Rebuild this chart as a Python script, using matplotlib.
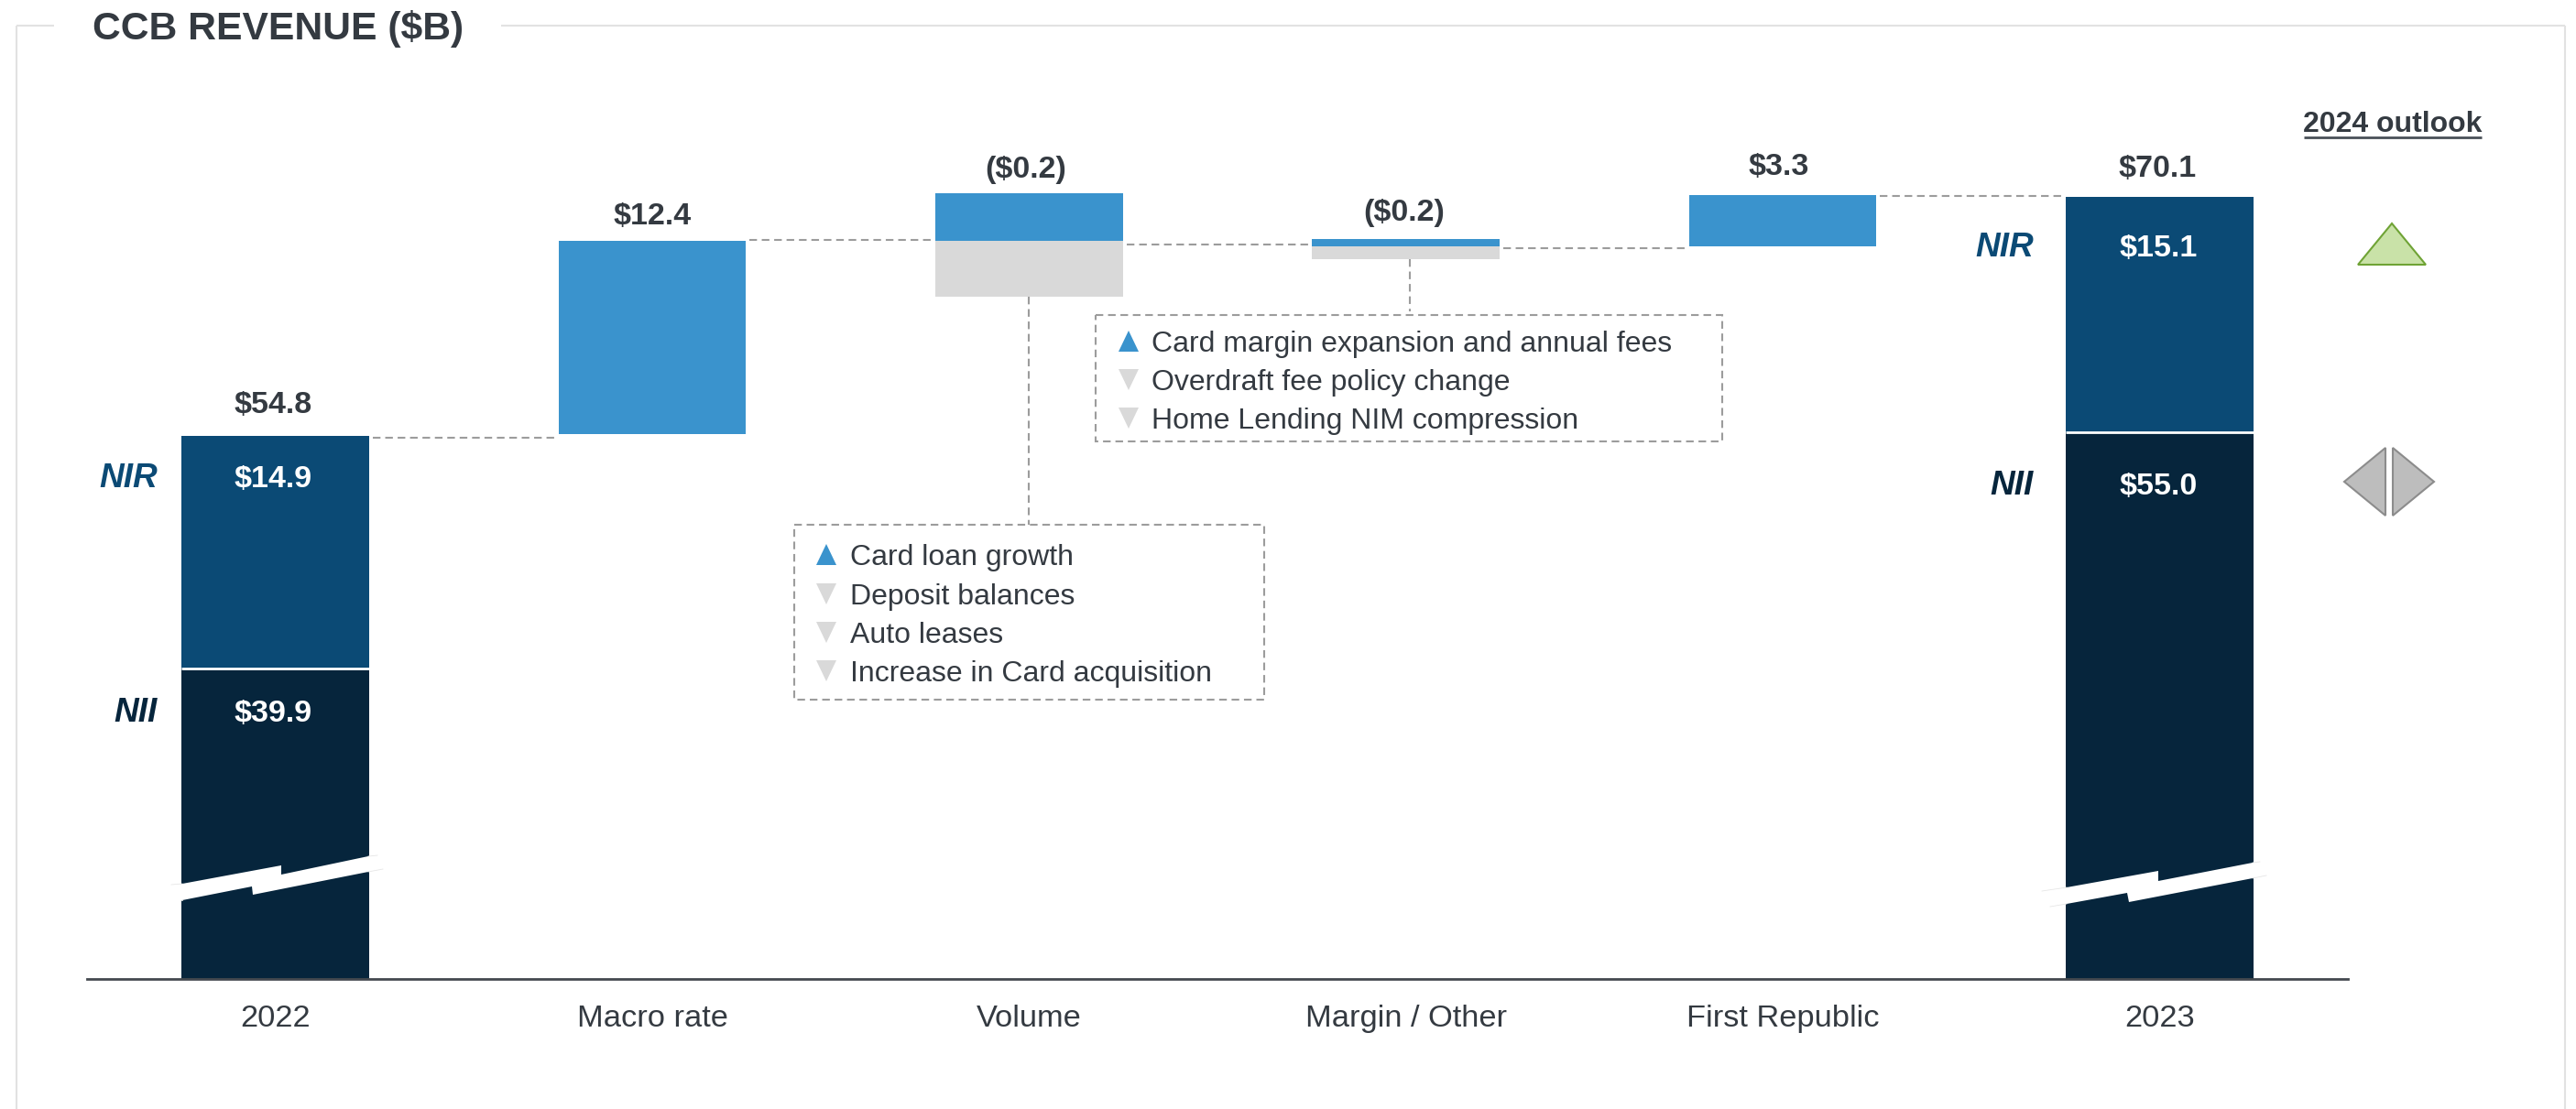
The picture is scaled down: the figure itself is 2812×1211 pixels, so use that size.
# -*- coding: utf-8 -*-

import matplotlib
matplotlib.use('Agg')
import matplotlib.pyplot as plt
from matplotlib.patches import Polygon, Rectangle

plt.rcParams['font.family'] = ['Liberation Sans', 'DejaVu Sans']

# data, $B
categories = ['2022', 'Macro rate', 'Volume', 'Margin / Other', 'First Republic', '2023']
total_pos = [0, 5]
nii = [39.9, 55.0]
nir = [14.9, 15.1]
axis_floor = 20.0  # the axis is broken, the baseline is not zero

up_pos = [1, 2, 3, 4]
up_base = [54.9, 67.3, 66.9, 66.9]
up_size = [12.4, 3.0, 0.5, 3.3]
down_pos = [2, 3]
down_base = [67.3, 66.9]
down_size = [3.6, 0.8]

connector_from = [0, 1, 2, 3, 4]
connector_level = [54.67, 67.35, 67.03, 66.79, 70.15]

top_labels = ['$54.8', '$12.4', '($0.2)', '($0.2)', '$3.3', '$70.1']
nir_labels = ['$14.9', '$15.1']
nii_labels = ['$39.9', '$55.0']
box_volume = [('up', 'Card loan growth'), ('down', 'Deposit balances'),
              ('down', 'Auto leases'), ('down', 'Increase in Card acquisition')]
box_margin = [('up', 'Card margin expansion and annual fees'),
              ('down', 'Overdraft fee policy change'),
              ('down', 'Home Lending NIM compression')]

TEXT = '#343A41'
NIR_C = '#0B4A75'
NII_C = '#06253C'
BLUE = '#3A93CD'
GREY = '#D9D9D9'
DASH = '#9C9C9C'
DASHES = (0, (4, 2.5))
W, H = 2812, 1211
BAR_W = 0.497
PT = 0.72  # points per pixel at dpi 100


def main():
    fig = plt.figure(figsize=(W / 100, H / 100), dpi=100)

    # main axes, categories 411 px apart and 17.05 px per $B
    ax = fig.add_axes([95 / W, (H - 1069) / H, (2563 - 95) / W, 1000 / H])
    ax.set_xlim(-0.5, 5.5)
    ax.set_ylim(axis_floor, axis_floor + 1000 / 17.05)

    ax.bar(total_pos, [v - axis_floor for v in nii], BAR_W, bottom=axis_floor, color=NII_C)
    ax.bar(total_pos, nir, BAR_W, bottom=nii, color=NIR_C)
    ax.bar(up_pos, up_size, BAR_W, bottom=up_base, color=BLUE)
    ax.bar(down_pos, [-d for d in down_size], BAR_W, bottom=down_base, color=GREY)

    # white split between NII and NIR
    for pos, level in zip(total_pos, nii):
        ax.plot([pos - BAR_W / 2, pos + BAR_W / 2], [level, level], color='white', lw=2,
                solid_capstyle='butt')

    for pos, level in zip(connector_from, connector_level):
        ax.plot([pos + BAR_W / 2 + 0.01, pos + 1 - BAR_W / 2], [level, level],
                color=DASH, lw=1.5, ls=DASHES)

    for s in ['top', 'left', 'right']:
        ax.spines[s].set_visible(False)
    ax.spines['bottom'].set_color('#44494F')
    ax.spines['bottom'].set_linewidth(2.0)
    ax.spines['bottom'].set_zorder(5)
    ax.set_yticks([])
    ax.set_xticks(range(len(categories)))
    ax.set_xticklabels(categories, fontsize=34.4 * PT, color=TEXT)
    ax.tick_params(axis='x', length=0, pad=20.5)

    # overlay in pixel coordinates for the annotation layer
    ov = fig.add_axes([0, 0, 1, 1], zorder=3)
    ov.set_xlim(0, W)
    ov.set_ylim(H, 0)
    ov.axis('off')

    # panel frame and title
    frame = dict(color='#E2E2E2', lw=1.5, solid_capstyle='butt')
    ov.plot([18, 18], [H, 27.5], **frame)
    ov.plot([18, 59], [27.5, 27.5], **frame)
    ov.plot([547, 2800], [27.5, 27.5], **frame)
    ov.plot([2800, 2800], [27.5, H], **frame)
    ov.text(101, 43, 'CCB REVENUE ($B)', fontsize=42.6 * PT, fontweight='bold',
            color=TEXT, va='baseline')

    # axis break marks
    breaks = [[(187, 966), (199, 965), (307, 945), (307, 955), (402, 935), (412, 934),
               (418, 949), (402, 952), (276, 977), (275, 968), (199, 983), (197, 983)],
              [(2229, 973), (2256, 969), (2356, 951), (2356, 962), (2459, 942), (2467, 941),
               (2474, 956), (2459, 959), (2324, 985), (2322, 975), (2256, 987), (2238, 990)]]
    for pts in breaks:
        ov.add_patch(Polygon(pts, closed=True, fc='white', ec='none'))
    # faint ends of the break marks, outside the bars
    for seg in [[(187, 966), (199, 965)], [(197, 983), (199, 983)], [(402, 935), (412, 934)],
                [(402, 952), (418, 949)], [(2229, 973), (2256, 969)], [(2238, 990), (2256, 987)],
                [(2459, 942), (2467, 941)], [(2459, 959), (2474, 956)]]:
        ov.plot([seg[0][0], seg[1][0]], [seg[0][1], seg[1][1]], color='#E6E6E6', lw=0.6)

    # labels above the bars
    top_xy = [(298, 451), (712, 245), (1120, 194), (1533, 241), (1942, 191), (2355, 193)]
    for (x, y), label in zip(top_xy, top_labels):
        ov.text(x, y, label, fontsize=34 * PT, fontweight='bold', color=TEXT,
                ha='center', va='baseline')
    for x, y, label in zip([298, 2356], [532, 280], nir_labels):
        ov.text(x, y, label, fontsize=34 * PT, fontweight='bold', color='white',
                ha='center', va='baseline')
    for x, y, label in zip([298, 2356], [788, 540], nii_labels):
        ov.text(x, y, label, fontsize=34 * PT, fontweight='bold', color='white',
                ha='center', va='baseline')

    # NIR / NII side labels
    for x, y, s, c in [(172, 532, 'NIR', NIR_C), (172, 788, 'NII', NII_C),
                       (2220, 280, 'NIR', NIR_C), (2220, 540, 'NII', NII_C)]:
        ov.text(x, y, s, fontsize=37 * PT, fontweight='bold', style='italic', color=c,
                ha='right', va='baseline')

    # callouts
    ov.plot([1123, 1123], [324, 573], color=DASH, lw=1.5, ls=DASHES)
    ov.plot([1539, 1539], [283, 340], color=DASH, lw=1.5, ls=DASHES)
    draw_box(ov, (867, 573, 1380, 764), box_volume, [606, 649, 691, 733], 891, 928)
    draw_box(ov, (1196, 344, 1880, 482), box_margin, [373, 415, 457], 1221, 1257)

    # 2024 outlook
    ov.text(2612, 144, '2024 outlook', fontsize=32 * PT, fontweight='bold', color=TEXT,
            ha='center', va='baseline')
    ov.plot([2515, 2709], [150, 150], color='#4A5058', lw=2, solid_capstyle='butt')
    ov.add_patch(Polygon([(2574, 289), (2611, 244), (2648, 289)], closed=True,
                         fc='#C9E2A8', ec='#6FA335', lw=1.5))
    ov.add_patch(Polygon([(2604, 489), (2559, 526), (2604, 563)], closed=True,
                         fc='#BDBDBD', ec='#8C8C8C', lw=1.5))
    ov.add_patch(Polygon([(2612, 489), (2657, 526), (2612, 563)], closed=True,
                         fc='#BDBDBD', ec='#8C8C8C', lw=1.5))

    fig.savefig('out.png', dpi=100)


def draw_box(ov, box, rows, row_y, tri_x, text_x):
    x0, y0, x1, y1 = box
    ov.add_patch(Rectangle((x0, y0), x1 - x0, y1 - y0, fc='none', ec=DASH, lw=1.5, ls=DASHES))
    for (kind, label), y in zip(rows, row_y):
        if kind == 'up':
            pts = [(tri_x, y + 11), (tri_x + 11, y - 12), (tri_x + 22, y + 11)]
            col = BLUE
        else:
            pts = [(tri_x, y - 12), (tri_x + 11, y + 11), (tri_x + 22, y - 12)]
            col = GREY
        ov.add_patch(Polygon(pts, closed=True, fc=col, ec='none'))
        ov.text(text_x, y + 11, label, fontsize=32 * PT, color=TEXT, va='baseline')


if __name__ == '__main__':
    main()
